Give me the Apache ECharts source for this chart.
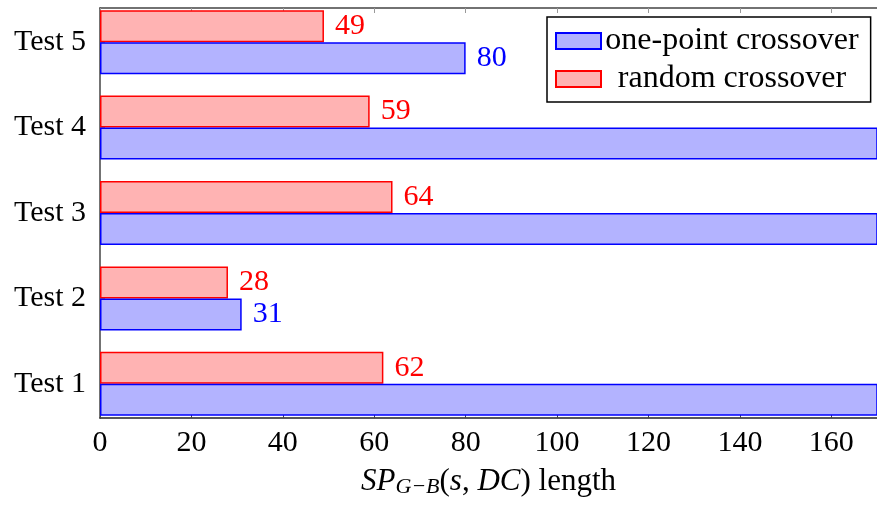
<!DOCTYPE html>
<html>
<head>
<meta charset="utf-8">
<script src="https://cdn.jsdelivr.net/npm/echarts@6/dist/echarts.min.js"></script>
<style>
html,body{margin:0;padding:0;background:#fff;}
#chart{width:877px;height:506px;}
</style>
</head>
<body>
<div id="chart"></div>
<script>
const categories = ['Test 1', 'Test 2', 'Test 3', 'Test 4', 'Test 5'];
// values beyond the axis (clipped in the reference) are estimates
const onePoint = [200, 31, 200, 200, 80];
const randomCross = [62, 28, 64, 59, 49];
const xMin = 0, xMax = 170, xInterval = 20;
const catTicks = [1, 2, 3, 4, 5];

const FONT = '"Liberation Serif", "DejaVu Serif", serif';
const AX = '#444';
const chart = echarts.init(document.getElementById('chart'));
const labelFmt = p => (p.value > xMax ? '' : String(p.value));

// frame: value y-range 0.6..5.4 (pgfplots-style enlarged limits) from y=8 to y=418
const frameTop = 8, frameBottom = 418, yLo = 0.6, yHi = 5.4;
const pxPerUnit = (frameBottom - frameTop) / (yHi - yLo);
const c1 = frameBottom - (1 - yLo) * pxPerUnit;
const barsBottom = c1 + pxPerUnit / 2;
const barsTop = barsBottom - categories.length * pxPerUnit;

chart.setOption({
  animation: false,
  grid: [
    { left: 100, top: frameTop, right: 0, bottom: 506 - frameBottom, outerBoundsMode: 'none', containLabel: false },
    { left: 100, top: barsTop, right: 0, bottom: 506 - barsBottom, outerBoundsMode: 'none', containLabel: false }
  ],
  legend: {
    orient: 'vertical',
    left: 547, top: 17,
    padding: [8, 12, 7, 8],
    borderColor: '#000', borderWidth: 1.5, borderRadius: 0,
    backgroundColor: '#fff',
    itemWidth: 45, itemHeight: 16, itemGap: 6,
    icon: 'rect',
    formatter: n => '{c|' + n + '}',
    textStyle: {
      rich: { c: { fontFamily: FONT, fontSize: 32, lineHeight: 30, color: '#000', width: 252, align: 'center' } }
    },
    data: ['one-point crossover', 'random crossover']
  },
  xAxis: [{
    gridIndex: 0, type: 'value', min: xMin, max: xMax, interval: xInterval,
    axisLine: { show: true, lineStyle: { color: '#222', width: 1.5 } },
    axisTick: { show: true, inside: true, length: 5, lineStyle: { color: AX } },
    splitLine: { show: false },
    axisLabel: { fontFamily: FONT, fontSize: 30, color: '#000', margin: 10, showMaxLabel: false },
    name: '{i|SP}{sub|G−B}{n|(}{i|s}{n|, }{i|DC}{n|) length}',
    nameLocation: 'middle', nameGap: 48,
    nameTextStyle: {
      rich: {
        i: { fontFamily: FONT, fontSize: 31, fontStyle: 'italic', color: '#000' },
        n: { fontFamily: FONT, fontSize: 31, color: '#000' },
        sub: { fontFamily: FONT, fontSize: 22, fontStyle: 'italic', color: '#000', verticalAlign: 'bottom', padding: [10, 0, 0, 0] }
      }
    }
  }, {
    gridIndex: 0, type: 'value', position: 'top', min: xMin, max: xMax, interval: xInterval,
    axisLine: { show: true, lineStyle: { color: AX, width: 1.5 } },
    axisTick: { show: true, inside: true, length: 5, lineStyle: { color: '#999' } },
    axisLabel: { show: false }, splitLine: { show: false }
  }, {
    gridIndex: 1, type: 'value', min: xMin, max: xMax, interval: xInterval, show: false
  }],
  yAxis: [{
    gridIndex: 0, type: 'value', min: yLo, max: yHi,
    axisLine: { show: true, lineStyle: { color: AX, width: 1.5 } },
    axisTick: { show: true, inside: true, length: 5, customValues: catTicks, lineStyle: { color: '#999' } },
    splitLine: { show: false },
    axisLabel: {
      customValues: catTicks,
      formatter: v => categories[Math.round(v) - 1] || '',
      fontFamily: FONT, fontSize: 30, color: '#000', margin: 14, padding: [3, 0, 0, 0]
    }
  }, {
    gridIndex: 1, type: 'category', data: categories, show: false
  }],
  series: [{
    name: 'random crossover', type: 'bar', xAxisIndex: 2, yAxisIndex: 1,
    data: randomCross,
    barWidth: 32, barGap: '0%', z: 2,
    itemStyle: { color: '#ffb3b3', borderColor: '#ff0000', borderWidth: 1.5 },
    label: { show: true, position: 'right', distance: 11, formatter: labelFmt, fontFamily: FONT, fontSize: 30, color: '#ff0000' }
  }, {
    name: 'one-point crossover', type: 'bar', xAxisIndex: 2, yAxisIndex: 1,
    data: onePoint,
    barWidth: 32, barGap: '0%', z: 2,
    itemStyle: { color: '#b3b3ff', borderColor: '#0000ff', borderWidth: 1.5 },
    label: { show: true, position: 'right', distance: 11, formatter: labelFmt, fontFamily: FONT, fontSize: 30, color: '#0000ff' }
  }]
});
</script>
</body>
</html>
